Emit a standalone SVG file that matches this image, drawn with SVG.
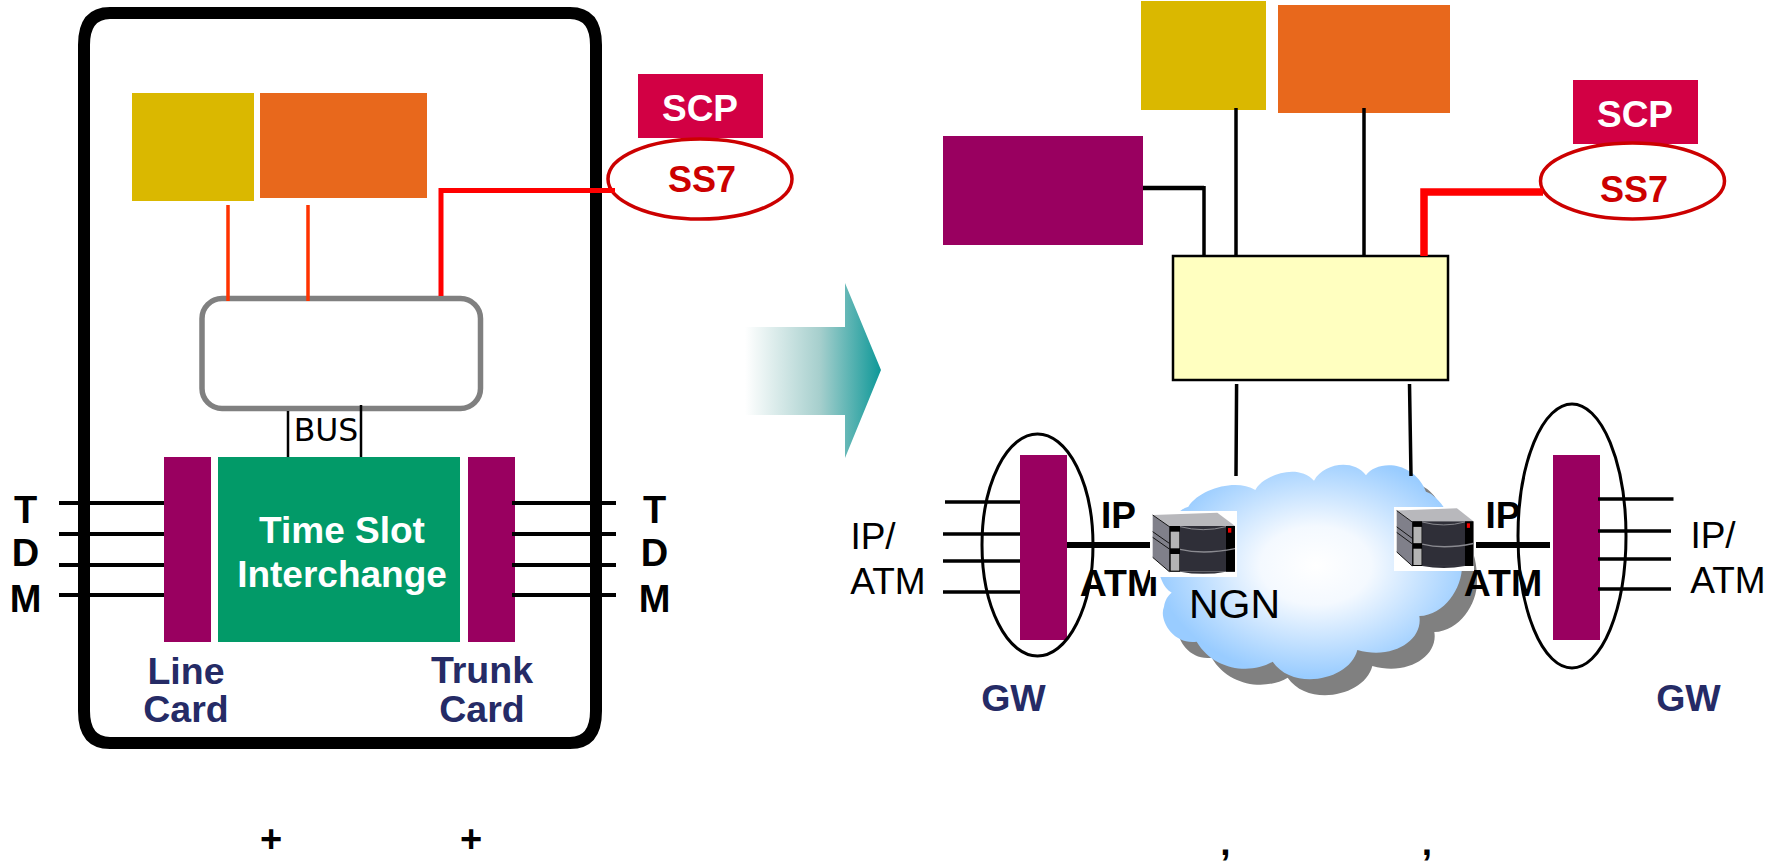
<svg xmlns="http://www.w3.org/2000/svg" width="1785" height="861" viewBox="0 0 1785 861">
<style>
text{font-family:"Liberation Sans",Arial,sans-serif;text-anchor:middle;font-size:37px}
.b{font-weight:bold}
.w{fill:#fff;font-weight:bold;font-size:37px}
.n{fill:#252B66;font-weight:bold;font-size:37.5px}
.r{fill:#CC0000;font-weight:bold;font-size:36px}
.k{font-weight:bold;font-size:38px}
.s{fill:#fff;stroke:#CC0000;stroke-width:3.5}
.o{fill:none;stroke:#000;stroke-width:3}
.l{fill:none;stroke:#000;stroke-width:3.5}
.t{fill:none;stroke:#000;stroke-width:6}
.yl{fill:#DAB800}.or{fill:#E8681C}.pu{fill:#990060}.sc{fill:#D20044}
</style>
<defs>
<linearGradient id="ag" x1="745" x2="881" y1="0" y2="0" gradientUnits="userSpaceOnUse"><stop offset="0" stop-color="#fff"/><stop offset="0.55" stop-color="#A6CFCD"/><stop offset="1" stop-color="#0E9898"/></linearGradient>
<radialGradient id="cg" cx="0.52" cy="0.47" r="0.52"><stop offset="0" stop-color="#fff"/><stop offset="0.35" stop-color="#F4F9FF"/><stop offset="1" stop-color="#99CCFF"/></radialGradient>
<path id="cloudshape" d="M115,140 C150,85 260,55 316,90 C335,50 440,5 492,62 C520,10 610,-5 648,46 C680,0 790,0 828,95 C880,110 940,230 935,300 C945,370 890,465 808,468 C820,540 730,600 622,570 C600,660 430,695 368,605 C300,645 190,630 140,545 C70,555 25,480 42,440 C45,420 55,405 65,398 C30,380 10,300 30,250 C40,200 80,150 115,140 Z"/>
<g id="server">
<polygon points="68,105 262,98 315,138 118,140" fill="#B8B8BC"/>
<polygon points="68,105 118,140 118,275 68,232" fill="#80808A"/>
<path d="M68,105 L118,140 M68,155 L118,190 M68,172 L118,207 M68,232 L118,275" stroke="#111" stroke-width="3" fill="none"/>
<rect x="118" y="138" width="197" height="137" fill="#2F2F38"/>
<rect x="118" y="138" width="32" height="137" fill="#000"/>
<rect x="288" y="138" width="27" height="137" fill="#000"/>
<rect x="122" y="155" width="26" height="50" fill="#B4B4B4"/>
<rect x="122" y="222" width="26" height="50" fill="#B4B4B4"/>
<path d="M150,140 Q220,158 288,140" stroke="#8A8A90" stroke-width="3" fill="none"/>
<path d="M150,208 Q220,225 315,206" stroke="#8A8A90" stroke-width="4" fill="none"/>
<path d="M150,275 Q220,288 288,275 Z" fill="#2F2F38"/>
<rect x="294" y="144" width="10" height="14" fill="#F00000"/>
</g>
</defs>

<g id="left-switch"><path fill-rule="evenodd" d="M110,7 H570 Q602,7 602,45 V711 Q602,749 570,749 H110 Q78,749 78,711 V45 Q78,7 110,7 Z M110,19 Q90,19 90,45 V711 Q90,737 110,737 H570 Q590,737 590,711 V45 Q590,19 570,19 Z" fill="#000"/></g>
<g id="transition-arrow"><polygon points="745,327 845,327 845,283 881,370 845,458 845,415 745,415" fill="url(#ag)"/></g>

<g id="softswitch-yellow"><rect class="yl" x="132" y="93" width="122" height="108"/></g>
<g id="softswitch-orange"><rect class="or" x="260" y="93" width="167" height="105"/></g>
<g id="controller"><rect x="202" y="298.5" width="278.5" height="110" rx="20" fill="#fff" stroke="#808080" stroke-width="5.5"/></g>
<g id="bus"><text x="326" y="441" style="font-family:'DejaVu Sans',sans-serif;font-size:31.5px">BUS</text></g>
<g id="line-card"><rect class="pu" x="164" y="457" width="47" height="185"/><text class="n" x="186" y="684">Line</text><text class="n" x="186" y="722">Card</text></g>
<g id="tsi"><rect x="218" y="457" width="242" height="185" fill="#029A68"/><text class="w" x="342" y="543">Time Slot</text><text class="w" x="342" y="587">Interchange</text></g>
<g id="trunk-card"><rect class="pu" x="468" y="457" width="47" height="185"/><text class="n" x="482" y="683">Trunk</text><text class="n" x="482" y="722">Card</text></g>
<g id="tdm-left"><text class="k" x="25.5" y="523">T</text><text class="k" x="25.5" y="566">D</text><text class="k" x="25.5" y="612">M</text></g>
<g id="tdm-right"><text class="k" x="654.5" y="523">T</text><text class="k" x="654.5" y="566">D</text><text class="k" x="654.5" y="612">M</text></g>
<g id="scp-left"><rect class="sc" x="638" y="74" width="125" height="64"/><text class="w" x="700" y="121">SCP</text></g>
<g id="ss7-left"><ellipse class="s" cx="700" cy="179" rx="92" ry="40"/><text class="r" x="702" y="192">SS7</text></g>
<g id="plus-marks"><text class="b" x="271" y="852" style="font-size:38px">+</text><text class="b" x="471" y="852" style="font-size:38px">+</text></g>

<g id="ngn-yellow"><rect class="yl" x="1141" y="1" width="125" height="109"/></g>
<g id="ngn-orange"><rect class="or" x="1278" y="5" width="172" height="108"/></g>
<g id="ngn-purple"><rect class="pu" x="943" y="136" width="200" height="109"/></g>
<g id="softswitch"><rect x="1173" y="256" width="275" height="124" fill="#FFFFC0" stroke="#000" stroke-width="2.5"/></g>
<g id="scp-right"><rect class="sc" x="1573" y="80" width="125" height="64"/><text class="w" x="1635" y="127">SCP</text></g>
<g id="ss7-right"><ellipse class="s" cx="1632.5" cy="181" rx="92" ry="38"/><text class="r" x="1634" y="202">SS7</text></g>

<g id="ngn-cloud" transform="translate(1150,460) scale(.33333)"><use href="#cloudshape" fill="#808080" transform="translate(45,48)"/><use href="#cloudshape" fill="url(#cg)"/></g>
<g id="gw-left"><rect class="pu" x="1020" y="455" width="47" height="185"/><ellipse class="o" cx="1037.5" cy="545" rx="55.5" ry="111"/><text class="n" x="1013.5" y="711">GW</text></g>
<g id="gw-right"><rect class="pu" x="1553" y="455" width="47" height="185"/><ellipse class="o" cx="1572" cy="536" rx="54" ry="132"/><text class="n" x="1688.5" y="711">GW</text></g>

<g id="connectors">
<path fill="none" stroke="#FF3300" stroke-width="3.5" d="M228,205 V301 M308,205 V301"/>
<path d="M441,296 V190.5 H615" fill="none" stroke="#FF0000" stroke-width="5"/>
<path fill="none" stroke="#000" stroke-width="2.5" d="M288,411 V457 M361,405 V457"/>
<path class="t" style="stroke-width:4" d="M59,503 H164 M59,534 H164 M59,565 H164 M59,595 H164 M512,503 H616 M512,534 H616 M512,565 H616 M512,595 H616"/>
<path class="t" style="stroke-width:4.5" d="M1143,188 H1204"/>
<path class="l" d="M1204,186 V256 M1236,108 V256 M1364,108 V256"/>
<path d="M1424,256 V192 H1543" fill="none" stroke="#FF0000" stroke-width="7.5"/>
<path class="l" d="M1236.6,384 L1236,476 M1409.5,384 L1411,476"/>
<path class="l" d="M945,502 H1020 M943,534 H1020 M943,561 H1020 M943,592 H1020 M1598,499 H1673.5 M1598,531 H1671 M1598,559 H1671 M1598,589 H1671"/>
<path class="t" d="M1067,545 H1150 M1476,545 H1550"/>
</g>

<g id="labels">
<text x="873" y="549">IP/</text><text x="888" y="594">ATM</text>
<text x="1713" y="548">IP/</text><text x="1728" y="593">ATM</text>
<text class="b" x="1118.5" y="528">IP</text><text class="b" x="1119" y="596" style="font-size:37.5px">ATM</text>
<text class="b" x="1503" y="528">IP</text><text class="b" x="1503" y="596" style="font-size:37.5px">ATM</text>
</g>
<g id="server-left"><rect x="1150" y="511" width="87" height="66" fill="#fff"/><use href="#server" transform="translate(1130,480) scale(.33333)"/></g>
<g id="server-right"><rect x="1394" y="507" width="80" height="64" fill="#fff"/><use href="#server" transform="translate(1375.6,476.4) scale(.3104,.3257)"/></g>
<g id="ngn-label"><text x="1234.5" y="618" style="font-size:41px">NGN</text></g>
<g id="commas"><text class="b" x="1225.5" y="855">,</text><text class="b" x="1427" y="855">,</text></g>
</svg>
